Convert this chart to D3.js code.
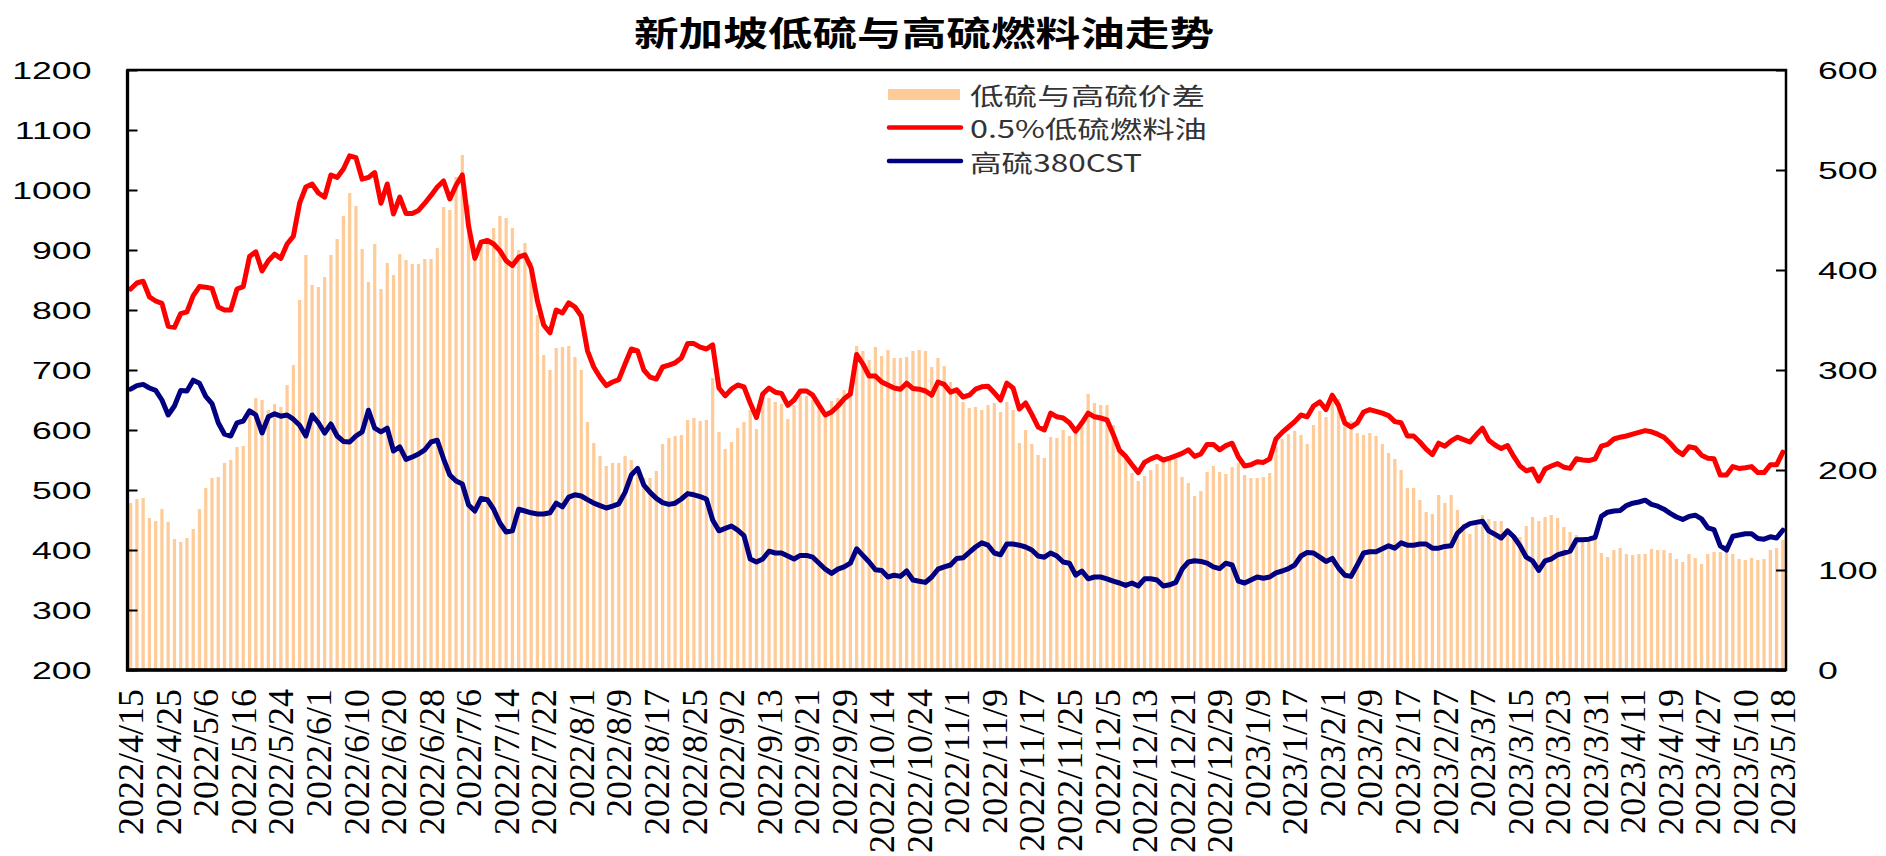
<!DOCTYPE html>
<html>
<head>
<meta charset="utf-8">
<script src="https://cdn.jsdelivr.net/npm/d3@7"></script>
<style>
	body{margin:0;background:#fff;}
</style>
</head>
<body>
<svg id="chart" width="1886" height="856"></svg>
<script>
// labels under every 6th trading day
var tickLabels = ['2022/4/15','2022/4/25','2022/5/6','2022/5/16','2022/5/24','2022/6/1','2022/6/10','2022/6/20','2022/6/28','2022/7/6',
	'2022/7/14','2022/7/22','2022/8/1','2022/8/9','2022/8/17','2022/8/25','2022/9/2','2022/9/13','2022/9/21','2022/9/29',
	'2022/10/14','2022/10/24','2022/11/1','2022/11/9','2022/11/17','2022/11/25','2022/12/5','2022/12/13','2022/12/21','2022/12/29',
	'2023/1/9','2023/1/17','2023/2/1','2023/2/9','2023/2/17','2023/2/27','2023/3/7','2023/3/15','2023/3/23','2023/3/31',
	'2023/4/11','2023/4/19','2023/4/27','2023/5/10','2023/5/18'];

var seriesNames = ['低硫与高硫价差','0.5%低硫燃料油','高硫380CST'];

// 0.5% low sulphur, left axis
var lowSulfur = [835,845,848,822,815,811,773,771,794,797,
	824,839,838,836,805,800,800,835,839,889,
	897,865,882,893,886,910,923,978,1005,1010,
	995,988,1025,1021,1035,1057,1054,1018,1021,1029,
	978,1010,960,988,961,961,966,978,991,1005,
	1015,985,1008,1025,940,886,913,916,910,899,
	882,874,888,892,870,815,775,762,800,795,
	812,805,790,732,705,688,674,680,684,710,
	735,732,700,688,685,705,708,712,720,744,
	744,738,735,742,670,657,668,675,672,645,
	621,660,670,663,661,641,650,665,665,658,
	641,625,630,640,652,660,726,710,690,690,
	680,675,670,668,678,669,668,665,658,680,
	676,663,667,655,658,668,672,673,662,650,
	678,670,635,645,626,605,600,628,622,620,
	612,598,612,628,622,620,617,593,566,556,
	542,529,546,552,556,550,553,557,561,567,
	556,560,576,576,567,574,578,555,540,542,
	547,546,552,585,596,605,614,625,622,640,
	647,634,658,641,612,605,612,630,634,631,
	628,624,614,612,590,590,580,568,559,578,
	573,582,588,584,580,592,603,583,575,569,
	574,556,540,532,535,515,535,540,544,538,
	536,552,550,549,552,573,576,585,588,590,
	593,596,599,597,593,588,578,566,559,572,
	570,558,553,552,525,525,539,536,537,539,
	529,529,542,542,563];

// 380cst high sulphur, left axis
var highSulfur = [668,674,676,670,666,650,625,640,666,665,
	683,678,656,644,612,593,590,612,615,632,
	625,595,622,627,623,625,618,608,590,625,
	612,595,610,590,581,580,590,597,633,603,
	597,603,565,572,551,555,560,567,580,583,
	552,525,515,510,475,465,486,484,468,445,
	430,432,468,465,462,460,460,462,478,472,
	488,492,490,484,478,474,470,473,477,496,
	525,536,508,496,486,479,476,478,485,494,
	492,489,485,450,432,436,440,433,424,385,
	380,385,398,395,395,390,385,391,391,388,
	378,368,361,368,372,378,402,391,380,367,
	366,355,358,356,365,350,348,346,355,368,
	372,375,386,387,396,405,412,408,395,392,
	410,410,408,405,400,390,388,395,390,380,
	378,358,365,352,355,355,352,348,345,341,
	345,340,352,352,350,340,342,346,368,380,
	382,381,378,372,369,378,375,348,345,350,
	355,353,355,362,365,369,375,390,396,395,
	388,381,386,370,358,356,375,395,397,397,
	402,407,403,412,408,408,410,410,403,403,
	406,407,428,438,444,446,448,432,426,420,
	432,422,407,388,382,366,382,385,392,395,
	398,417,417,418,421,456,463,465,466,474,
	478,480,483,476,473,468,461,455,451,456,
	458,452,437,434,407,400,423,425,427,427,
	419,418,422,420,433];

// spread bars, right axis
var spread = [167,171,172,152,149,161,148,131,128,132,
	141,161,182,192,193,207,210,223,224,257,
	272,270,260,266,263,285,305,370,415,385,
	383,393,415,431,454,477,464,421,388,426,
	381,407,395,416,410,406,406,411,411,422,
	463,460,493,515,465,421,427,432,442,454,
	452,442,420,427,408,355,315,300,322,323,
	324,313,300,248,227,214,204,207,207,214,
	210,196,192,192,199,226,232,234,235,250,
	252,249,250,292,238,221,228,242,248,260,
	241,275,272,268,266,251,265,274,274,270,
	263,257,269,272,280,282,324,319,310,323,
	314,320,312,312,313,319,320,319,303,312,
	304,288,281,268,262,263,260,265,267,258,
	268,260,227,240,226,215,212,233,232,240,
	234,240,247,276,267,265,265,245,221,215,
	197,189,194,200,206,210,211,211,193,187,
	174,179,198,204,198,196,203,207,195,192,
	192,193,197,223,231,236,239,235,226,245,
	259,253,272,271,254,249,237,235,237,234,
	226,217,211,200,182,182,170,158,156,175,
	167,175,160,146,136,146,155,151,149,149,
	142,134,133,144,153,149,153,155,152,143,
	138,135,133,131,131,117,113,120,122,116,
	115,116,116,121,120,120,117,111,108,116,
	112,106,116,118,118,125,116,111,110,112,
	110,111,120,122,130];

var leftTicks = [200,300,400,500,600,700,800,900,1000,1100,1200];
var rightTicks = [0,100,200,300,400,500,600];

var L = 127.5, R = 1786, T = 70, B = 670;
var svg = d3.select('#chart');

var x = d3.scaleBand()
	.domain(d3.range(lowSulfur.length))
	.range([L, R])
	.paddingInner(0.48)
	.paddingOuter(0.24);
var cx = (i)=>x(i) + x.bandwidth()/2;
var yL = d3.scaleLinear().domain([200,1200]).range([B,T]);
var yR = d3.scaleLinear().domain([0,600]).range([B,T]);

// bars
svg.append('g')
	.selectAll('rect')
	.data(spread)
	.enter()
	.append('rect')
	.attr('x',(d,i)=>x(i))
	.attr('width',x.bandwidth())
	.attr('y',(d)=>yR(d))
	.attr('height',(d)=>B - yR(d))
	.attr('fill','#ffcc99');

var line = d3.line().x((d,i)=>cx(i)).y((d)=>yL(d));

svg.append('path')
	.datum(lowSulfur)
	.attr('d',line)
	.attr('fill','none')
	.attr('stroke','#ff0000')
	.attr('stroke-width',5)
	.attr('stroke-linejoin','round')
	.attr('stroke-linecap','round');

svg.append('path')
	.datum(highSulfur)
	.attr('d',line)
	.attr('fill','none')
	.attr('stroke','#000080')
	.attr('stroke-width',5)
	.attr('stroke-linejoin','round')
	.attr('stroke-linecap','round');

// frame
svg.append('rect')
	.attr('x',L).attr('y',T)
	.attr('width',R-L).attr('height',B-T)
	.attr('fill','none')
	.attr('stroke','#000')
	.attr('stroke-width',2.5);
svg.append('path')
	.attr('d','M'+L+','+T+'V'+B+'H'+R)
	.attr('fill','none')
	.attr('stroke','#000')
	.attr('stroke-width',3.3);

// left axis, ticks point inward
var gl = svg.append('g')
	.attr('transform','translate('+L+',0)')
	.call(d3.axisLeft(yL).tickValues(leftTicks).tickFormat(d3.format('d')).tickSizeInner(-10).tickSizeOuter(0).tickPadding(36));
gl.select('.domain').remove();
gl.selectAll('line').attr('stroke','#000').attr('stroke-width',2);
gl.selectAll('text')
	.attr('x',null)
	.attr('dy','0.36em')
	.attr('transform','translate(-36,0) scale(1.55,1)')
	.style('font-family','"Liberation Sans", Arial, sans-serif')
	.style('font-size','23px')
	.attr('fill','#000');

// right axis
var gr = svg.append('g')
	.attr('transform','translate('+R+',0)')
	.call(d3.axisRight(yR).tickValues(rightTicks).tickFormat(d3.format('d')).tickSizeInner(-10).tickSizeOuter(0).tickPadding(32));
gr.select('.domain').remove();
gr.selectAll('line').attr('stroke','#000').attr('stroke-width',2);
gr.selectAll('text')
	.attr('x',null)
	.attr('dy','0.36em')
	.attr('transform','translate(32,0) scale(1.55,1)')
	.style('font-family','"Liberation Sans", Arial, sans-serif')
	.style('font-size','23px')
	.attr('fill','#000');

// category axis, vertical date labels
var gb = svg.append('g')
	.attr('transform','translate(0,'+B+')')
	.call(d3.axisBottom(x).tickValues(d3.range(0,lowSulfur.length,6)).tickFormat((d)=>tickLabels[d/6]).tickSize(0));
gb.select('.domain').remove();
gb.selectAll('text')
	.attr('x',null)
	.attr('y',null)
	.attr('dy','0.35em')
	.attr('text-anchor','end')
	.attr('transform','translate(0,19) rotate(-90)')
	.style('font-family','"Liberation Serif", "Times New Roman", serif')
	.style('font-size','36px')
	.attr('fill','#000');

// title
svg.append('text')
	.text('新加坡低硫与高硫燃料油走势')
	.attr('x',924)
	.attr('y',31)
	.attr('text-anchor','middle')
	.style('dominant-baseline','central')
	.attr('textLength',580)
	.attr('lengthAdjust','spacingAndGlyphs')
	.style('font-family','"Noto Sans CJK SC", sans-serif')
	.style('font-weight','700')
	.style('font-size','34px')
	.attr('fill','#000');

// legend
var legendRows = [
	{name:seriesNames[0], type:'bar', color:'#ffcc99', y:94.5, w:235},
	{name:seriesNames[1], type:'line', color:'#ff0000', y:127.5, w:237},
	{name:seriesNames[2], type:'line', color:'#000080', y:161, w:172}
];
svg.append('g')
	.selectAll('g')
	.data(legendRows)
	.enter()
	.append('g')
	.each(function(d){
		var g = d3.select(this);
		if(d.type=='bar'){
			g.append('rect')
				.attr('x',888).attr('y',d.y-5.5)
				.attr('width',72).attr('height',11)
				.attr('fill',d.color);
		}else{
			g.append('line')
				.attr('x1',889).attr('x2',961)
				.attr('y1',d.y).attr('y2',d.y)
				.attr('stroke',d.color)
				.attr('stroke-width',4.5)
				.attr('stroke-linecap','round');
		}
		g.append('text')
			.text(d.name)
			.attr('x',970)
			.attr('y',d.y)
			.style('dominant-baseline','central')
			.attr('textLength',d.w)
			.attr('lengthAdjust','spacingAndGlyphs')
			.style('font-family','"Noto Sans CJK SC", sans-serif')
			.style('font-size','24px')
			.attr('fill','#333');
	});
</script>
</body>
</html>
